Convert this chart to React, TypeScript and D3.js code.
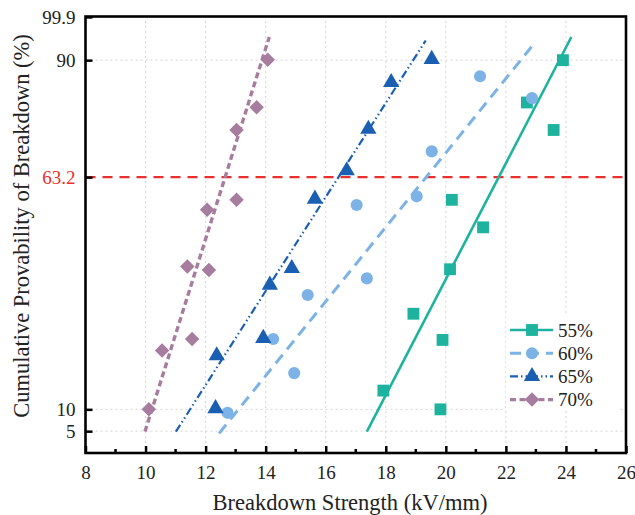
import { useEffect, useRef } from "react";
import * as d3 from "d3";

// breakdown strength (kV/mm) and cumulative probability (%) for each humidity
const labels = ["55%", "60%", "65%", "70%"];
const strength55 = [17.92, 18.92, 19.82, 19.89, 20.14, 20.2, 21.24, 22.7, 23.59, 23.9];
const prob55 = [14.3, 31.9, 10, 25.9, 42.1, 58, 51.7, 80.3, 74, 90];
const strength60 = [12.73, 14.25, 14.95, 15.4, 17.03, 17.37, 19.03, 19.53, 21.14, 22.87];
const prob60 = [9.2, 26.1, 18.3, 36.2, 56.8, 40, 58.8, 69.1, 86.3, 81.3];
const strength65 = [12.33, 12.37, 13.92, 14.14, 14.87, 15.64, 16.7, 17.42, 18.18, 19.53];
const prob65 = [10.2, 22.3, 26.3, 38.5, 42.3, 58.2, 64.7, 74.2, 84.9, 90.2];
const strength70 = [10.11, 10.55, 11.39, 11.55, 12.05, 12.11, 13.03, 13.03, 13.7, 14.07];
const prob70 = [10, 23.5, 42.7, 26.1, 55.7, 41.9, 58, 74, 79.2, 90.1];

// fitted lines: [strength, probability] at both ends
const fit55 = [[17.37, 4.9], [24.18, 95.3]];
const fit60 = [[12.45, 4.5], [23.0, 94.3]];
const fit65 = [[11.01, 4.9], [19.33, 94.5]];
const fit70 = [[9.98, 4.9], [14.12, 95.3]];

const xTicks = [8, 10, 12, 14, 16, 18, 20, 22, 24, 26];
const xMinor = [9, 11, 13, 15, 17, 19, 21, 23, 25];
const yTicks = [5, 10, 63.2, 90, 99.9];
const yGrid = [5, 10, 90];
const refLevel = 63.2;

const colors = ["#1db39e", "#7cb2e6", "#1b5fb3", "#a67c9f"];
const dashes = [null, "11,7", "8,3,1.5,3,1.5,3", "6,3.5"];
const widths = [2.6, 3, 2.2, 3.4];
const symbols = [d3.symbolSquare, d3.symbolCircle, d3.symbolTriangle, d3.symbolSquare];
const symSizes = [140, 115, 115, 105];
const symRot = [0, 0, 0, 45];

const W = 635, H = 515;
const M = { top: 16.5, right: 9, bottom: 62, left: 85.5 };
const FONT = "Liberation Serif, Times New Roman, Times, DejaVu Serif, Noto Serif, serif";

export default function App() {
  const ref = useRef<SVGSVGElement>(null);

  useEffect(() => {
    const svg = d3.select(ref.current);
    svg.selectAll("*").remove();

    const x = d3.scaleLinear().domain([8, 26]).range([M.left, W - M.right]);
    const y = d3.scaleLinear().domain([0, 100]).range([H - M.bottom, M.top]);

    const series = [
      { pts: d3.zip(strength55, prob55), fit: fit55 },
      { pts: d3.zip(strength60, prob60), fit: fit60 },
      { pts: d3.zip(strength65, prob65), fit: fit65 },
      { pts: d3.zip(strength70, prob70), fit: fit70 },
    ];

    // grid
    const grid = svg.append("g").attr("stroke", "#d4d4d4").attr("stroke-width", 1).attr("stroke-dasharray", "2,3");
    grid.selectAll(".gx").data(xTicks.slice(1, -1)).join("line")
      .attr("x1", d => x(d)).attr("x2", d => x(d)).attr("y1", y(0)).attr("y2", M.top);
    grid.selectAll(".gy").data(yGrid).join("line")
      .attr("x1", x(8)).attr("x2", x(26)).attr("y1", d => y(d)).attr("y2", d => y(d));

    // 63.2 reference line
    svg.append("line")
      .attr("x1", x(8)).attr("x2", x(26)).attr("y1", y(refLevel)).attr("y2", y(refLevel))
      .attr("stroke", "#e8302c").attr("stroke-width", 2.2).attr("stroke-dasharray", "10,7");

    const lineGen = d3.line<number[]>().x(d => x(d[0])).y(d => y(d[1]));

    series.forEach((s, i) => {
      svg.append("path")
        .attr("d", lineGen(s.fit))
        .attr("fill", "none")
        .attr("stroke", colors[i])
        .attr("stroke-width", widths[i])
        .attr("stroke-dasharray", dashes[i]);
    });

    series.forEach((s, i) => {
      const sym = d3.symbol(symbols[i], symSizes[i]);
      svg.append("g").selectAll("path").data(s.pts).join("path")
        .attr("d", sym())
        .attr("fill", colors[i])
        .attr("transform", d => `translate(${x(d[0])},${y(d[1])}) rotate(${symRot[i]})`);
    });

    // legend
    const lg = svg.append("g");
    lg.append("rect").attr("x", 506).attr("y", 316).attr("width", 114).attr("height", 94).attr("fill", "#fff");
    labels.forEach((lab, i) => {
      const ly = 330 + i * 23.2;
      lg.append("line").attr("x1", 510).attr("x2", 553).attr("y1", ly).attr("y2", ly)
        .attr("stroke", colors[i]).attr("stroke-width", widths[i]).attr("stroke-dasharray", dashes[i]);
      lg.append("path").attr("d", d3.symbol(symbols[i], symSizes[i])())
        .attr("fill", colors[i]).attr("transform", `translate(532,${ly}) rotate(${symRot[i]})`);
      lg.append("text").attr("x", 558).attr("y", ly).attr("dy", "0.35em")
        .style("font-family", FONT).attr("font-size", 19).attr("fill", "#222").text(lab);
    });

    // axes
    const xAxis = svg.append("g").attr("transform", `translate(0,${y(0)})`)
      .call(d3.axisBottom(x).tickValues(xTicks).tickSizeInner(-7).tickSizeOuter(0).tickPadding(13).tickFormat(d3.format("d")));
    xAxis.select(".domain").remove();
    xAxis.selectAll("line").attr("stroke", "#000").attr("stroke-width", 2.5);
    xAxis.selectAll("text").style("font-family", FONT).attr("font-size", 19).attr("fill", "#222");

    svg.append("g").selectAll("line").data(xMinor).join("line")
      .attr("x1", d => x(d)).attr("x2", d => x(d)).attr("y1", y(0)).attr("y2", y(0) - 4)
      .attr("stroke", "#000").attr("stroke-width", 2.5);

    const yAxis = svg.append("g").attr("transform", `translate(${x(8)},0)`)
      .call(d3.axisLeft(y).tickValues(yTicks).tickSizeInner(-7).tickSizeOuter(0).tickPadding(10).tickFormat(d => String(d)));
    yAxis.select(".domain").remove();
    yAxis.selectAll("line").attr("stroke", "#000").attr("stroke-width", 2.5);
    yAxis.selectAll("text").style("font-family", FONT).attr("font-size", 19)
      .attr("fill", d => (d === refLevel ? "#e8302c" : "#222"));

    // frame
    svg.append("rect")
      .attr("x", x(8)).attr("y", y(100)).attr("width", x(26) - x(8)).attr("height", y(0) - y(100))
      .attr("fill", "none").attr("stroke", "#000").attr("stroke-width", 2.6);

    // titles
    svg.append("text").attr("x", 350).attr("y", 510).attr("text-anchor", "middle")
      .style("font-family", FONT).attr("font-size", 22.5).attr("fill", "#222")
      .text("Breakdown Strength (kV/mm)");
    svg.append("text").attr("transform", `translate(29,226) rotate(-90)`).attr("text-anchor", "middle")
      .style("font-family", FONT).attr("font-size", 22.5).attr("fill", "#222")
      .text("Cumulative Provability of Breakdown (%)");
  }, []);

  return (
    <div style={{ position: "fixed", left: 0, top: 0 }}>
      <svg ref={ref} width={W} height={H} style={{ display: "block", background: "#fff" }} />
    </div>
  );
}
